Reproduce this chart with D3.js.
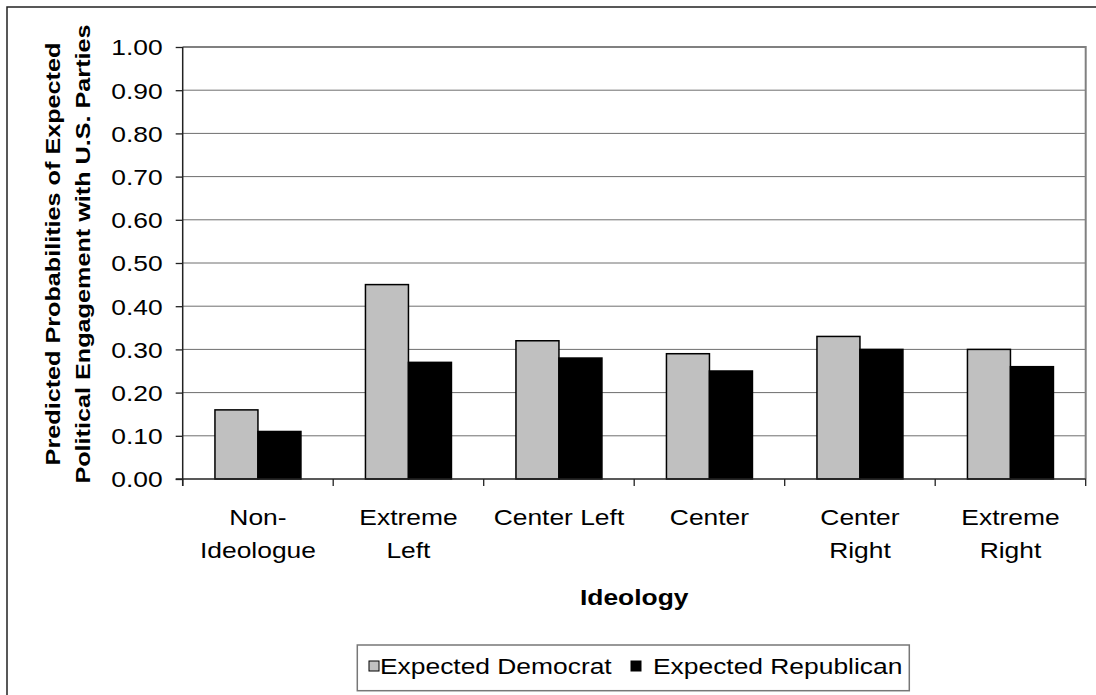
<!DOCTYPE html>
<html>
<head>
<meta charset="utf-8">
<script src="https://cdn.jsdelivr.net/npm/d3@7"></script>
<style>
  body { margin: 0; background: #fff; }
  text { font-family: "Liberation Sans", Arial, sans-serif; fill: #000; }
</style>
</head>
<body>
<svg id="chart" width="1096" height="695"></svg>
<script>
// Ideology groups and their wrapped display labels
const categories = ["Non-Ideologue", "Extreme Left", "Center Left", "Center", "Center Right", "Extreme Right"];
const categoryLines = [["Non-", "Ideologue"], ["Extreme", "Left"], ["Center Left"], ["Center"], ["Center", "Right"], ["Extreme", "Right"]];

// Predicted probabilities per series
const seriesNames = ["Expected Democrat", "Expected Republican"];
const democrat   = [0.16, 0.45, 0.32, 0.29, 0.33, 0.30];
const republican = [0.11, 0.27, 0.28, 0.25, 0.30, 0.26];
const seriesColors = ["#c0c0c0", "#000000"];

// Value-axis ticks
const yTicks = [0, 0.1, 0.2, 0.3, 0.4, 0.5, 0.6, 0.7, 0.8, 0.9, 1.0];

const yTitle = ["Predicted Probabilities of Expected", "Political Engagement with U.S. Parties"];
const xTitle = "Ideology";

const SX = 1.2; // horizontal glyph stretch
const svg = d3.select("#chart");

const plot = { left: 182.7, right: 1085.7, top: 47, bottom: 479 };

const x0 = d3.scaleBand().domain(categories).range([plot.left, plot.right]).paddingInner(0).paddingOuter(0);
const bw = x0.bandwidth();
const x1 = d3.scaleBand().domain(seriesNames).range([bw * 0.2143, bw * 0.7857]).padding(0);
const y = d3.scaleLinear().domain([0, 1]).range([plot.bottom, plot.top]);

// Outer chart frame
svg.append("rect").attr("x", 7).attr("y", 7).attr("width", 1200).attr("height", 800)
  .attr("fill", "#fff").attr("stroke", "#222").attr("stroke-width", 1.5);

// Gridlines
svg.append("g").selectAll("line").data(yTicks.filter(d => d > 0)).join("line")
  .attr("x1", plot.left).attr("x2", plot.right)
  .attr("y1", d => y(d)).attr("y2", d => y(d))
  .attr("stroke", "#6e6e6e").attr("stroke-width", 1);

// Plot area border (top and right)
svg.append("path")
  .attr("d", `M${plot.left},${y(1)}H${plot.right}V${plot.bottom}`)
  .attr("fill", "none").attr("stroke", "#808080").attr("stroke-width", 2);

// Bars
const rows = categories.map((c, i) => ({ cat: c, vals: [democrat[i], republican[i]] }));
const groups = svg.append("g").selectAll("g").data(rows).join("g")
  .attr("transform", d => `translate(${x0(d.cat)},0)`);
groups.selectAll("rect").data(d => d.vals.map((v, j) => ({ v, j }))).join("rect")
  .attr("x", d => x1(seriesNames[d.j]))
  .attr("width", x1.bandwidth())
  .attr("y", d => y(d.v))
  .attr("height", d => y(0) - y(d.v))
  .attr("fill", d => seriesColors[d.j])
  .attr("stroke", "#000").attr("stroke-width", 1.5);

// Y axis
const yAxis = d3.axisLeft(y).tickValues(yTicks).tickSize(7).tickSizeOuter(0).tickFormat(d3.format(".2f"));
const yg = svg.append("g").attr("transform", `translate(${plot.left},0)`).call(yAxis);
yg.select(".domain").remove();
yg.selectAll(".tick line").attr("stroke", "#222").attr("stroke-width", 1.3);
yg.selectAll(".tick text")
  .attr("x", 0).attr("dy", "0.36em")
  .attr("transform", "translate(-20,0) scale(" + SX + ",1)")
  .attr("font-size", 22).attr("font-family", null).attr("fill", "#000");
yg.append("line").attr("x1", 0).attr("x2", 0).attr("y1", y(1)).attr("y2", plot.bottom + 7)
  .attr("stroke", "#222").attr("stroke-width", 1.5);

// X axis line and group boundary ticks
const xg = svg.append("g");
xg.append("line").attr("x1", plot.left - 7).attr("x2", plot.right).attr("y1", y(0)).attr("y2", y(0))
  .attr("stroke", "#222").attr("stroke-width", 1.5);
const bounds = categories.map(c => x0(c)).concat([x0.range()[1]]);
xg.selectAll("line.tk").data(bounds).join("line").attr("class", "tk")
  .attr("x1", d => d).attr("x2", d => d).attr("y1", y(0)).attr("y2", y(0) + 7)
  .attr("stroke", "#222").attr("stroke-width", 1.3);

// Category labels
const lab = svg.append("g").selectAll("g").data(categories).join("g")
  .attr("transform", d => `translate(${x0(d) + bw / 2},0)`);
lab.each(function (d, i) {
  const g = d3.select(this);
  categoryLines[i].forEach((ln, k) => {
    g.append("text").attr("text-anchor", "middle").attr("font-size", 22)
      .attr("transform", `translate(0,${525 + k * 33}) scale(${SX},1)`).text(ln);
  });
});

// X axis title
svg.append("text").attr("text-anchor", "middle").attr("font-size", 22).attr("font-weight", "bold")
  .attr("transform", `translate(${(plot.left + plot.right) / 2},605) scale(${SX},1)`).text(xTitle);

// Y axis title (rotated, two lines)
const yt = svg.append("g").attr("transform", "translate(0,254) rotate(-90)");
yTitle.forEach((ln, k) => {
  yt.append("text").attr("text-anchor", "middle").attr("font-size", 21).attr("font-weight", "bold")
    .attr("transform", `translate(0,${60 + k * 30}) scale(${SX},1)`).text(ln);
});

// Legend
const lg = svg.append("g");
lg.append("rect").attr("x", 357.3).attr("y", 645).attr("width", 552).attr("height", 45.7)
  .attr("fill", "#fff").attr("stroke", "#777").attr("stroke-width", 1.5);
const legendItems = [
  { name: seriesNames[0], color: seriesColors[0], mx: 369, tx: 380 },
  { name: seriesNames[1], color: seriesColors[1], mx: 631, tx: 653 }
];
legendItems.forEach(it => {
  lg.append("rect").attr("x", it.mx).attr("y", 661).attr("width", 10).attr("height", 10)
    .attr("fill", it.color).attr("stroke", "#000").attr("stroke-width", 1);
  lg.append("text").attr("font-size", 22)
    .attr("transform", `translate(${it.tx},674) scale(${SX},1)`).text(it.name);
});
</script>
</body>
</html>
